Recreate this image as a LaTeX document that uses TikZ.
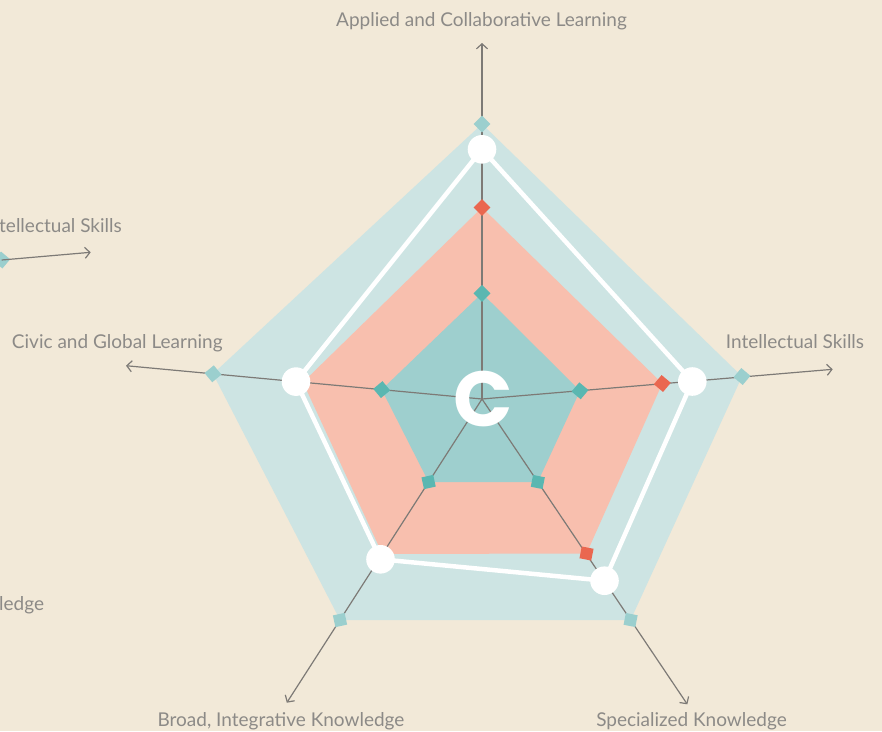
\documentclass[tikz,border=0pt]{standalone}
\usepackage{fontspec}
\setmainfont{Lato}
\newfontfamily\cfont{Poppins}
\usetikzlibrary{arrows.meta}
\definecolor{bg}{RGB}{242,233,216}
\definecolor{outerblue}{RGB}{205,228,227}
\definecolor{salmon}{RGB}{248,191,174}
\definecolor{innerteal}{RGB}{158,207,206}
\definecolor{tealmark}{RGB}{90,183,177}
\definecolor{redmark}{RGB}{234,103,80}
\definecolor{outermark}{RGB}{155,207,206}
\definecolor{axisgray}{RGB}{125,122,118}
\definecolor{textgray}{RGB}{140,138,135}
\tikzset{
  axisline/.style={draw=axisgray, line width=1.2pt, -{Straight Barb[length=5pt,width=11pt]}},
  marker/.style={rectangle, minimum size=12pt, inner sep=0pt, fill=#1},
  dot/.style={circle, fill=white, minimum size=28.6pt, inner sep=0pt},
  lbl/.style={text=textgray, font=\fontsize{19}{22}\selectfont, anchor=base, inner sep=0pt},
  whiteline/.style={draw=white, line width=4.5pt, line join=round}
}
\begin{document}
\begin{tikzpicture}[x=1pt,y=-1pt]
\useasboundingbox (0,0) rectangle (882,731);
\fill[bg] (0,0) rectangle (882,731);
% centre and axis ends
\coordinate (O) at (482,399);
\coordinate (tT) at (482,43);
\coordinate (tR) at (832.7,369.3);
\coordinate (tL) at (126,365.7);
\coordinate (tBL) at (286.8,702.7);
\coordinate (tBR) at (687.3,704.3);
% outer polygon
\coordinate (oT) at (482,124);
\coordinate (oR) at (742,376.5);
\coordinate (oBR) at (630.6,620);
\coordinate (oBL) at (340,620);
\coordinate (oL) at (213,373.8);
% red polygon
\coordinate (rT) at (482,207.5);
\coordinate (rR) at (662.3,383.5);
\coordinate (rBR) at (586.5,553.5);
\coordinate (rBL) at (382.4,554);
\coordinate (rL) at (303,382.3);
% inner polygon
\coordinate (iT) at (482,293.3);
\coordinate (iR) at (580,390.8);
\coordinate (iBR) at (537.8,482);
\coordinate (iBL) at (428.6,482);
\coordinate (iL) at (381.7,389.6);
% white polygon
\coordinate (wT) at (482,149.3);
\coordinate (wR) at (692.3,381.5);
\coordinate (wBR) at (604.5,580.7);
\coordinate (wBL) at (380.5,559.3);
\coordinate (wL) at (296,381.6);

\fill[outerblue, rounded corners=4pt] (oT) -- (oR) -- (oBR) -- (oBL) -- (oL) -- cycle;
\fill[salmon] (rT) -- (rR) -- (rBR) -- (rBL) -- (rL) -- cycle;
\fill[innerteal] (iT) -- (iR) -- (iBR) -- (iBL) -- (iL) -- cycle;

\draw[axisline] (O) -- (tT);
\draw[axisline] (O) -- (tR);
\draw[axisline] (O) -- (tL);
\draw[axisline] (O) -- (tBL);
\draw[axisline] (O) -- (tBR);

\draw[whiteline] (wT) -- (wR) -- (wBR) -- (wBL) -- (wL) -- cycle;

% markers
\node[marker=outermark, rotate=135] (moT) at (oT) {};
\node[marker=outermark, rotate=49.8] (moR) at (oR) {};
\node[marker=outermark, rotate=348.9] (moBR) at (oBR) {};
\node[marker=outermark, rotate=282.3] (moBL) at (oBL) {};
\node[marker=outermark, rotate=219.7] (moL) at (oL) {};
\node[marker=redmark, rotate=135] (mrT) at (rT) {};
\node[marker=redmark, rotate=49.8] (mrR) at (rR) {};
\node[marker=redmark, rotate=348.9] (mrBR) at (rBR) {};
\node[marker=tealmark, rotate=135] (miT) at (iT) {};
\node[marker=tealmark, rotate=49.8] (miR) at (iR) {};
\node[marker=tealmark, rotate=348.9] (miBR) at (iBR) {};
\node[marker=tealmark, rotate=282.3] (miBL) at (iBL) {};
\node[marker=tealmark, rotate=219.7] (miL) at (iL) {};

% white dots
\node[dot] (dT) at (wT) {};
\node[dot] (dR) at (wR) {};
\node[dot] (dBR) at (wBR) {};
\node[dot] (dBL) at (wBL) {};
\node[dot] (dL) at (wL) {};

% centre letter
\node[text=white, font=\cfont\bfseries\fontsize{78}{80}\selectfont, inner sep=0pt] (C) at (483,398.5) {C};

% labels
\node[lbl] (lT) at (481.5,26.7) {Applied and Collaborative Learning};
\node[lbl] (lR) at (795,348.3) {Intellectual Skills};
\node[lbl] (lL) at (117.3,348.3) {Civic and Global Learning};
\node[lbl] (lBL) at (281,726.5) {Broad, Integrative Knowledge};
\node[lbl] (lBR) at (691.5,726.5) {Specialized Knowledge};

% fragments of a neighbouring chart
\coordinate (pTip) at (90.7,252.3);
\node[marker=outermark, rotate=49.9] (pD) at (1.7,260) {};
\draw[axisline] (pD.center) -- (pTip);
\node[lbl, anchor=base west] (pIS) at (-1,232.3) {tellectual Skills};
\node[lbl, anchor=base west] (pK) at (-1,610.5) {ledge};
\end{tikzpicture}
\end{document}
